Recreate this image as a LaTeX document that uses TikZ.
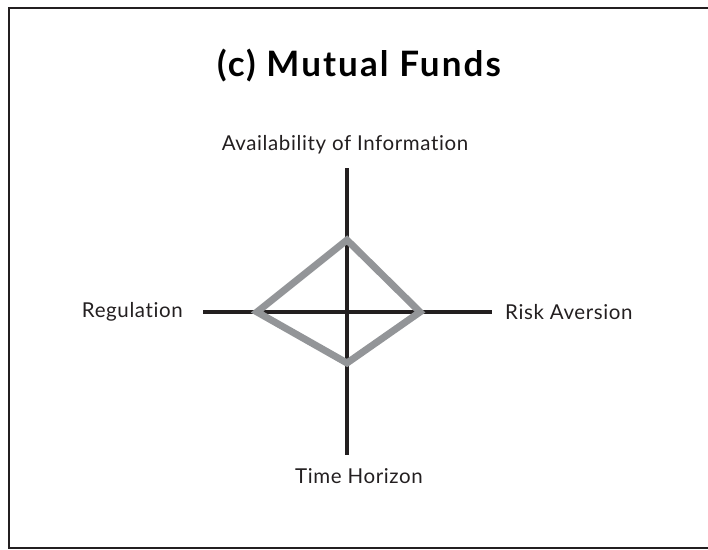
\documentclass[tikz,border=0pt]{standalone}
\usepackage{fontspec}
\setmainfont{Lato}[Ligatures=NoCommon]
\newfontfamily\headfont{Lato}[Ligatures=NoCommon, LetterSpace=6]
\newfontfamily\lblfont{Lato}[Ligatures=NoCommon, LetterSpace=3]
\usetikzlibrary{positioning}
\definecolor{axisblack}{HTML}{231F20}
\definecolor{profilegray}{HTML}{939598}
\tikzset{
		axis/.style={line width=4pt, draw=axisblack},
		profile/.style={line width=7pt, draw=profilegray, line join=miter},
		lbl/.style={font=\lblfont\fontsize{20.5}{24}\selectfont, text=axisblack, inner sep=0pt},
		heading/.style={font=\headfont\fontsize{35}{40}\selectfont\bfseries, text=black, inner sep=0pt}
	}

\begin{document}
\begin{tikzpicture}[x=1pt, y=-1pt]
		\useasboundingbox (0,0) rectangle (708,549);
		\draw[line width=2.5pt, axisblack] (710,548) -- (9,548) -- (9,8) -- (710,8);
		\node[heading] (title) at (359,66) {(c) Mutual Funds};
		% axes
		\coordinate (vtop) at (347,168); \coordinate (vbot) at (347,455);
		\coordinate (hleft) at (203,312); \coordinate (hright) at (492,312);
		\draw[axis] (vtop) -- (vbot);
		\draw[axis] (hleft) -- (hright);
		% profile
		\coordinate (ptop) at (347,240); \coordinate (pright) at (420,312);
		\coordinate (pbot) at (347,363); \coordinate (pleft) at (257,312);
		\draw[profile] (ptop) -- (pright) -- (pbot) -- (pleft) -- cycle;
		% labels
		\node[lbl, above=14pt of vtop, xshift=-2pt] (info) {Availability of Information};
		\node[lbl, left=20pt of hleft] (reg) {Regulation};
		\node[lbl, right=13pt of hright] (risk) {Risk Aversion};
		\node[lbl, below=13pt of vbot, xshift=12pt] (time) {Time Horizon};
	\end{tikzpicture}
\end{document}
